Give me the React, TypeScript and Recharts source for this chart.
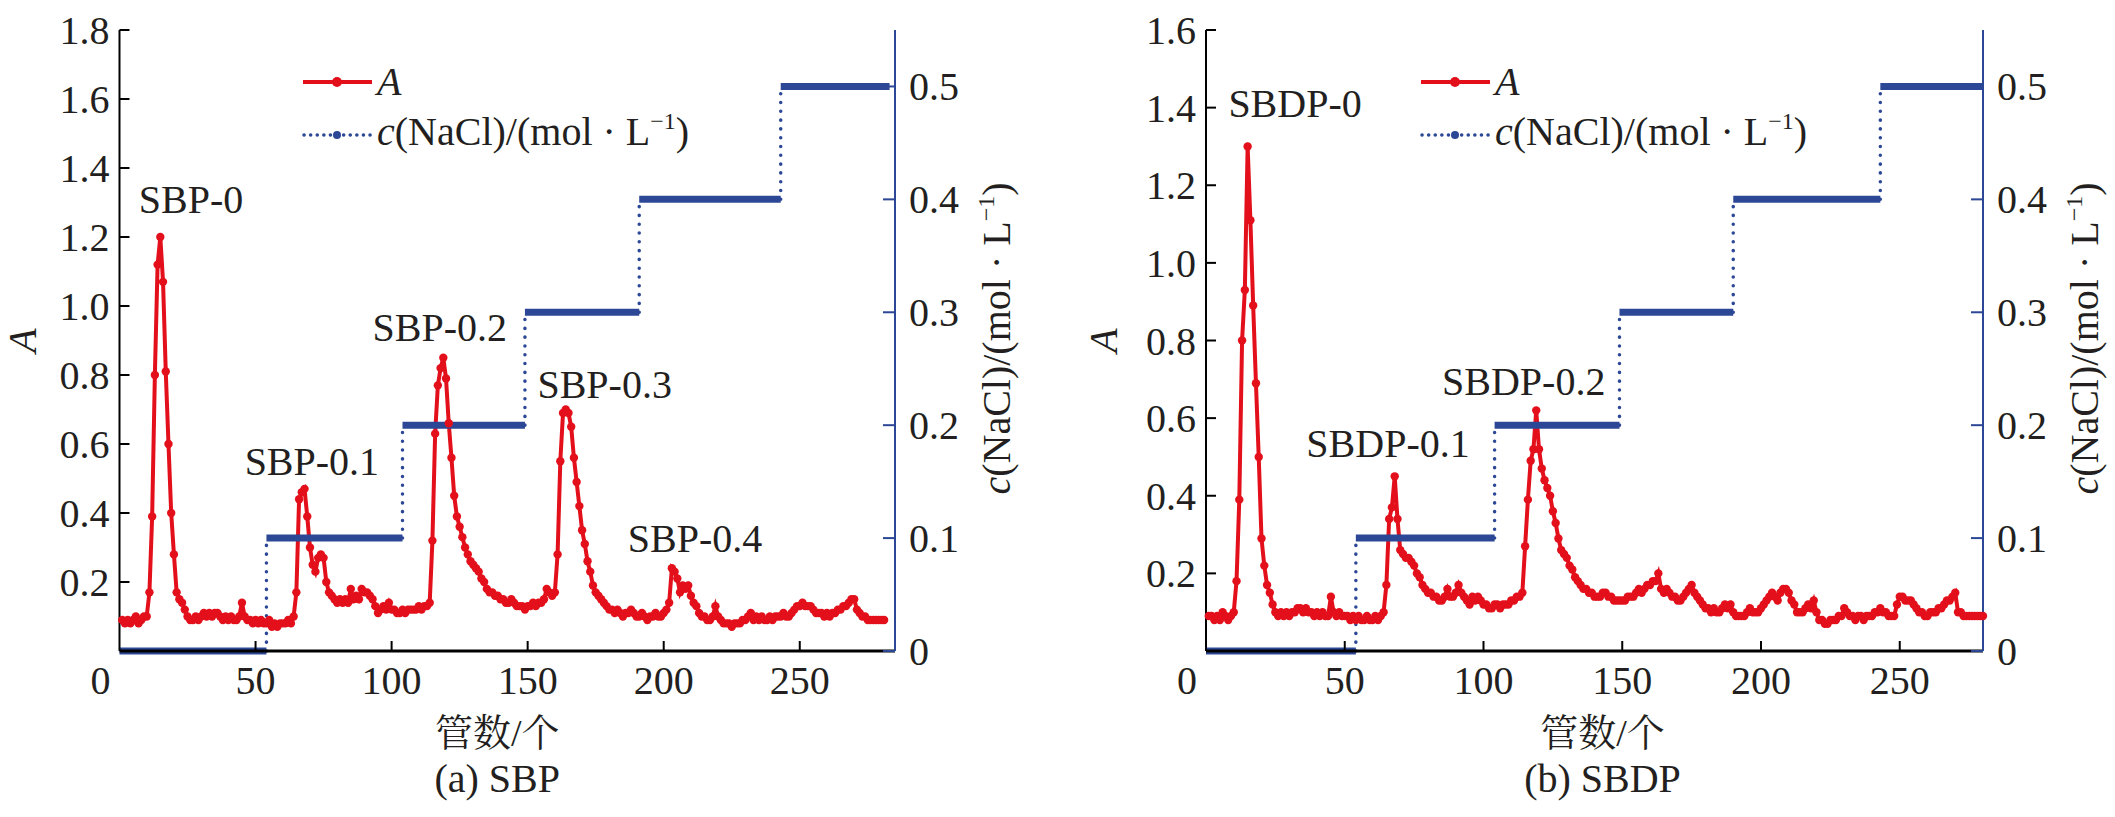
import React from "react";
import { LineChart, Line, XAxis, YAxis, Legend, ReferenceDot } from "recharts";

const SERIF = "'Liberation Serif', Tinos, 'DejaVu Serif', serif";
const CJK = "'Liberation Serif', 'Noto Serif CJK SC', 'Noto Sans CJK SC', serif";
const RED = "#e3101b";
const BLUE = "#2c4796";
const INK = "#231f20";
const FS = 40;

// absorbance per tube, tube numbers start at 1
const A_SBP = [
  0.09, 0.08, 0.09, 0.08, 0.09, 0.10, 0.08, 0.09, 0.10, 0.10,
  0.17, 0.39, 0.80, 1.12, 1.20, 1.07, 0.81, 0.60, 0.40, 0.28,
  0.17, 0.15, 0.14, 0.12, 0.10, 0.09, 0.09, 0.10, 0.09, 0.10,
  0.11, 0.10, 0.11, 0.10, 0.11, 0.11, 0.10, 0.09, 0.10, 0.09,
  0.10, 0.09, 0.09, 0.10, 0.14, 0.10, 0.09, 0.09, 0.08, 0.09,
  0.08, 0.09, 0.08, 0.08, 0.09, 0.07, 0.08, 0.07, 0.08, 0.08,
  0.08, 0.09, 0.08, 0.10, 0.17, 0.44, 0.46, 0.47, 0.39, 0.30,
  0.25, 0.23, 0.27, 0.28, 0.27, 0.20, 0.17, 0.16, 0.15, 0.14,
  0.15, 0.14, 0.15, 0.14, 0.18, 0.15, 0.16, 0.15, 0.18, 0.17,
  0.17, 0.16, 0.15, 0.13, 0.11, 0.12, 0.13, 0.12, 0.14, 0.12,
  0.12, 0.11, 0.11, 0.12, 0.11, 0.12, 0.12, 0.12, 0.12, 0.13,
  0.12, 0.13, 0.13, 0.14, 0.32, 0.63, 0.77, 0.82, 0.85, 0.79,
  0.66, 0.56, 0.45, 0.39, 0.36, 0.33, 0.30, 0.28, 0.26, 0.25,
  0.24, 0.23, 0.21, 0.20, 0.18, 0.17, 0.17, 0.16, 0.16, 0.15,
  0.15, 0.14, 0.14, 0.15, 0.14, 0.13, 0.13, 0.13, 0.12, 0.13,
  0.13, 0.14, 0.13, 0.14, 0.14, 0.15, 0.18, 0.17, 0.16, 0.17,
  0.28, 0.55, 0.69, 0.70, 0.69, 0.65, 0.56, 0.49, 0.42, 0.35,
  0.31, 0.26, 0.23, 0.19, 0.17, 0.16, 0.15, 0.14, 0.13, 0.12,
  0.12, 0.11, 0.12, 0.11, 0.10, 0.11, 0.11, 0.12, 0.11, 0.10,
  0.10, 0.11, 0.10, 0.09, 0.10, 0.10, 0.11, 0.10, 0.10, 0.11,
  0.12, 0.14, 0.24, 0.23, 0.21, 0.17, 0.19, 0.18, 0.19, 0.16,
  0.14, 0.13, 0.11, 0.10, 0.10, 0.09, 0.09, 0.10, 0.13, 0.10,
  0.09, 0.08, 0.08, 0.08, 0.07, 0.08, 0.08, 0.08, 0.09, 0.09,
  0.10, 0.11, 0.09, 0.10, 0.09, 0.10, 0.09, 0.09, 0.10, 0.09,
  0.10, 0.10, 0.10, 0.11, 0.10, 0.10, 0.11, 0.12, 0.13, 0.13,
  0.14, 0.13, 0.13, 0.13, 0.12, 0.11, 0.11, 0.11, 0.10, 0.11,
  0.10, 0.11, 0.11, 0.12, 0.12, 0.13, 0.13, 0.14, 0.15, 0.15,
  0.12, 0.11, 0.10, 0.10, 0.09, 0.09, 0.09, 0.09, 0.09, 0.09, 0.09,
];

const A_SBDP = [
  0.09, 0.09, 0.08, 0.09, 0.08, 0.10, 0.09, 0.08, 0.09, 0.10,
  0.18, 0.39, 0.80, 0.93, 1.30, 1.11, 0.89, 0.69, 0.50, 0.29,
  0.22, 0.17, 0.15, 0.12, 0.10, 0.09, 0.10, 0.09, 0.10, 0.09,
  0.10, 0.10, 0.11, 0.11, 0.10, 0.11, 0.10, 0.10, 0.09, 0.10,
  0.09, 0.10, 0.09, 0.09, 0.14, 0.10, 0.09, 0.10, 0.09, 0.09,
  0.09, 0.08, 0.09, 0.08, 0.09, 0.08, 0.08, 0.09, 0.08, 0.08,
  0.09, 0.08, 0.09, 0.10, 0.17, 0.34, 0.37, 0.45, 0.34, 0.26,
  0.25, 0.24, 0.24, 0.23, 0.22, 0.20, 0.19, 0.17, 0.16, 0.15,
  0.15, 0.14, 0.14, 0.13, 0.13, 0.14, 0.16, 0.14, 0.14, 0.15,
  0.17, 0.15, 0.14, 0.13, 0.12, 0.14, 0.13, 0.14, 0.13, 0.12,
  0.12, 0.11, 0.11, 0.12, 0.12, 0.11, 0.12, 0.12, 0.12, 0.13,
  0.13, 0.14, 0.14, 0.15, 0.27, 0.39, 0.49, 0.52, 0.62, 0.52,
  0.47, 0.44, 0.42, 0.40, 0.36, 0.33, 0.29, 0.26, 0.25, 0.24,
  0.22, 0.21, 0.19, 0.18, 0.17, 0.16, 0.16, 0.15, 0.15, 0.14,
  0.14, 0.14, 0.15, 0.15, 0.14, 0.14, 0.13, 0.13, 0.13, 0.13,
  0.13, 0.14, 0.14, 0.14, 0.15, 0.16, 0.15, 0.16, 0.17, 0.17,
  0.18, 0.18, 0.20, 0.16, 0.15, 0.16, 0.15, 0.14, 0.14, 0.13,
  0.13, 0.14, 0.15, 0.16, 0.17, 0.15, 0.14, 0.13, 0.12, 0.11,
  0.11, 0.10, 0.11, 0.10, 0.10, 0.11, 0.12, 0.11, 0.12, 0.10,
  0.09, 0.09, 0.09, 0.09, 0.10, 0.11, 0.10, 0.10, 0.10, 0.11,
  0.12, 0.13, 0.14, 0.15, 0.14, 0.13, 0.15, 0.16, 0.16, 0.15,
  0.13, 0.12, 0.10, 0.10, 0.10, 0.11, 0.12, 0.11, 0.13, 0.10,
  0.08, 0.08, 0.07, 0.07, 0.08, 0.08, 0.08, 0.09, 0.09, 0.11,
  0.10, 0.09, 0.09, 0.08, 0.09, 0.09, 0.08, 0.09, 0.09, 0.09,
  0.10, 0.10, 0.11, 0.10, 0.10, 0.09, 0.09, 0.09, 0.12, 0.14,
  0.14, 0.13, 0.13, 0.13, 0.12, 0.11, 0.10, 0.10, 0.09, 0.09,
  0.10, 0.10, 0.10, 0.11, 0.11, 0.12, 0.13, 0.13, 0.14, 0.15,
  0.10, 0.10, 0.09, 0.09, 0.09, 0.09, 0.09, 0.09, 0.09, 0.09,
];

// NaCl gradient: level i runs from edges[i] to edges[i + 1]
const CONC_LEVELS = [0, 0.1, 0.2, 0.3, 0.4, 0.5];
const STEP_EDGES_SBP = [0, 54, 104, 149, 191, 243, 283];
const STEP_EDGES_SBDP = [0, 54, 104, 149, 190, 243, 280];

const X_TICKS = [0, 50, 100, 150, 200, 250];
const A_TICKS_SBP = [0.2, 0.4, 0.6, 0.8, 1.0, 1.2, 1.4, 1.6, 1.8];
const A_TICKS_SBDP = [0.2, 0.4, 0.6, 0.8, 1.0, 1.2, 1.4, 1.6];
const C_TICKS = [0, 0.1, 0.2, 0.3, 0.4, 0.5];

const PEAKS_SBP = [
  { name: "SBP-0", t: 26.3, a: 1.27 },
  { name: "SBP-0.1", t: 70.7, a: 0.51 },
  { name: "SBP-0.2", t: 117.7, a: 0.9 },
  { name: "SBP-0.3", t: 178.3, a: 0.733 },
  { name: "SBP-0.4", t: 211.5, a: 0.287 },
];
const PEAKS_SBDP = [
  { name: "SBDP-0", t: 32.1, a: 1.376 },
  { name: "SBDP-0.1", t: 65.6, a: 0.499 },
  { name: "SBDP-0.2", t: 114.5, a: 0.66 },
];

const toRows = (vals: number[]) => vals.map((a, i) => ({ t: i + 1, a }));

function stepSegments(edges: number[]) {
  const flat: { t: number; c: number }[][] = [];
  const rise: { t: number; c: number }[][] = [];
  CONC_LEVELS.forEach((c, i) => {
    flat.push([{ t: edges[i], c }, { t: edges[i + 1], c }]);
    if (i > 0) rise.push([{ t: edges[i], c: CONC_LEVELS[i - 1] }, { t: edges[i], c }]);
  });
  return { flat, rise };
}

const textProps = { fontSize: FS, fill: INK, style: { fontFamily: SERIF } };

function LeftTick({ x, y, payload }: any) {
  return (
    <g>
      <line x1={x} x2={x + 10} y1={y} y2={y} stroke="#000" strokeWidth={2} />
      <text x={x - 10} y={y} dy="0.35em" textAnchor="end" {...textProps}>
        {payload.value.toFixed(1)}
      </text>
    </g>
  );
}

function RightTick({ x, y, payload }: any) {
  return (
    <g>
      <line x1={x} x2={x - 12} y1={y} y2={y} stroke={BLUE} strokeWidth={2} />
      <text x={x + 14} y={y} dy="0.35em" textAnchor="start" {...textProps}>
        {payload.value === 0 ? "0" : payload.value.toFixed(1)}
      </text>
    </g>
  );
}

function BottomTick({ x, y, payload }: any) {
  const zero = payload.value === 0;
  return (
    <g>
      {!zero && <line x1={x} x2={x} y1={y} y2={y - 10} stroke="#000" strokeWidth={2} />}
      <text x={zero ? x - 19 : x} y={y + 43} textAnchor="middle" {...textProps}>
        {payload.value}
      </text>
    </g>
  );
}

function ALabel({ viewBox, dx }: any) {
  const cx = viewBox.x + dx;
  const cy = viewBox.y + viewBox.height / 2;
  return (
    <text x={cx} y={cy} transform={`rotate(-90 ${cx} ${cy})`} textAnchor="middle" fontStyle="italic" {...textProps}>
      A
    </text>
  );
}

function ConcText() {
  return (
    <>
      <tspan fontStyle="italic">c</tspan>
      (NaCl)/(mol · L
      <tspan dy={-16} fontSize={24}>−1</tspan>
      <tspan dy={16}>)</tspan>
    </>
  );
}

function ConcLabel({ viewBox, dx }: any) {
  const cx = viewBox.x + dx;
  const cy = viewBox.y + viewBox.height / 2 - 2;
  return (
    <text x={cx} y={cy} transform={`rotate(-90 ${cx} ${cy})`} textAnchor="middle" {...textProps}>
      <ConcText />
    </text>
  );
}

function XCaption({ viewBox, dx, caption }: any) {
  const cx = viewBox.x + viewBox.width / 2 + dx;
  return (
    <g>
      <text x={cx} y={viewBox.y + 95} textAnchor="middle" fontSize={38} fill={INK} style={{ fontFamily: CJK }}>
        管数/个
      </text>
      <text x={cx} y={viewBox.y + 141} textAnchor="middle" {...textProps}>
        {caption}
      </text>
    </g>
  );
}

function PeakLabel({ viewBox, text }: any) {
  return (
    <text x={viewBox.x + viewBox.width / 2} y={viewBox.y + viewBox.height / 2} textAnchor="middle" {...textProps}>
      {text}
    </text>
  );
}

function LegendBox() {
  return (
    <svg width={400} height={100} style={{ display: "block", overflow: "visible" }}>
      <line x1={3} x2={72} y1={22} y2={22} stroke={RED} strokeWidth={4} />
      <circle cx={37} cy={22} r={5} fill={RED} />
      <text x={77} y={35} fontStyle="italic" {...textProps}>A</text>
      <line x1={4} x2={72} y1={75} y2={75} stroke={BLUE} strokeWidth={3.5} strokeDasharray="0.1 6.5" strokeLinecap="round" />
      <circle cx={37} cy={75} r={4} fill={BLUE} />
      <text x={77} y={85} {...textProps}>
        <ConcText />
      </text>
    </svg>
  );
}

function Panel(p: any) {
  const rows = toRows(p.values);
  const { flat, rise } = stepSegments(p.edges);
  return (
    <div style={{ position: "absolute", left: p.left, top: 0 }}>
      <LineChart width={p.width} height={817} data={rows} margin={{ top: 30, right: 0, bottom: 0, left: 0 }}>
        <XAxis
          type="number"
          dataKey="t"
          domain={[0, p.xMax]}
          ticks={X_TICKS}
          interval={0}
          height={166}
          tickSize={0}
          tickMargin={0}
          tickLine={false}
          axisLine={{ stroke: "#000", strokeWidth: 3 }}
          tick={(tp: any) => <BottomTick {...tp} />}
          label={<XCaption dx={p.captionDx} caption={p.caption} />}
        />
        <YAxis
          yAxisId="left"
          type="number"
          domain={[0, p.aMax]}
          ticks={p.aTicks}
          interval={0}
          width={p.leftW}
          tickSize={0}
          tickMargin={0}
          tickLine={false}
          axisLine={{ stroke: "#000", strokeWidth: 2 }}
          tick={(tp: any) => <LeftTick {...tp} />}
          label={<ALabel dx={p.aLabelDx} />}
        />
        <YAxis
          yAxisId="right"
          orientation="right"
          type="number"
          domain={[0, 0.55]}
          ticks={C_TICKS}
          interval={0}
          width={p.rightW}
          tickSize={0}
          tickMargin={0}
          tickLine={false}
          axisLine={{ stroke: BLUE, strokeWidth: 2 }}
          tick={(tp: any) => <RightTick {...tp} />}
          label={<ConcLabel dx={115} />}
        />
        <Legend
          layout="vertical"
          align="center"
          verticalAlign="middle"
          content={<LegendBox />}
          wrapperStyle={{ left: p.legendLeft, top: 60, width: 400, height: 100 }}
        />
        <Line
          yAxisId="left"
          dataKey="a"
          stroke={RED}
          strokeWidth={4}
          dot={{ r: 4.2, fill: RED, stroke: "none" }}
          activeDot={false}
          isAnimationActive={false}
        />
        {rise.map((seg, i) => (
          <Line
            key={`rise-${i}`}
            yAxisId="right"
            data={seg}
            dataKey="c"
            stroke={BLUE}
            strokeWidth={3.5}
            strokeDasharray="0.1 8.7"
            strokeLinecap="round"
            dot={false}
            activeDot={false}
            legendType="none"
            isAnimationActive={false}
          />
        ))}
        {flat.map((seg, i) => (
          <Line
            key={`flat-${i}`}
            yAxisId="right"
            data={seg}
            dataKey="c"
            stroke={BLUE}
            strokeWidth={7}
            dot={false}
            activeDot={false}
            legendType="none"
            isAnimationActive={false}
          />
        ))}
        {p.peaks.map((pk: any) => (
          <ReferenceDot
            key={pk.name}
            yAxisId="left"
            x={pk.t}
            y={pk.a}
            r={0}
            fill="none"
            stroke="none"
            label={<PeakLabel text={pk.name} />}
          />
        ))}
      </LineChart>
    </div>
  );
}

export default function App() {
  return (
    <div style={{ position: "absolute", left: 0, top: 0, width: 2115, height: 817, background: "#fff" }}>
      <Panel
        left={0}
        width={1060}
        leftW={119.5}
        rightW={165}
        xMax={285}
        aMax={1.8}
        aTicks={A_TICKS_SBP}
        values={A_SBP}
        edges={STEP_EDGES_SBP}
        peaks={PEAKS_SBP}
        legendLeft={300}
        aLabelDx={36}
        captionDx={-10}
        caption="(a) SBP"
      />
      <Panel
        left={1060}
        width={1055}
        leftW={146}
        rightW={132}
        xMax={280}
        aMax={1.6}
        aTicks={A_TICKS_SBDP}
        values={A_SBDP}
        edges={STEP_EDGES_SBDP}
        peaks={PEAKS_SBDP}
        legendLeft={358}
        aLabelDx={57}
        captionDx={8}
        caption="(b) SBDP"
      />
    </div>
  );
}
